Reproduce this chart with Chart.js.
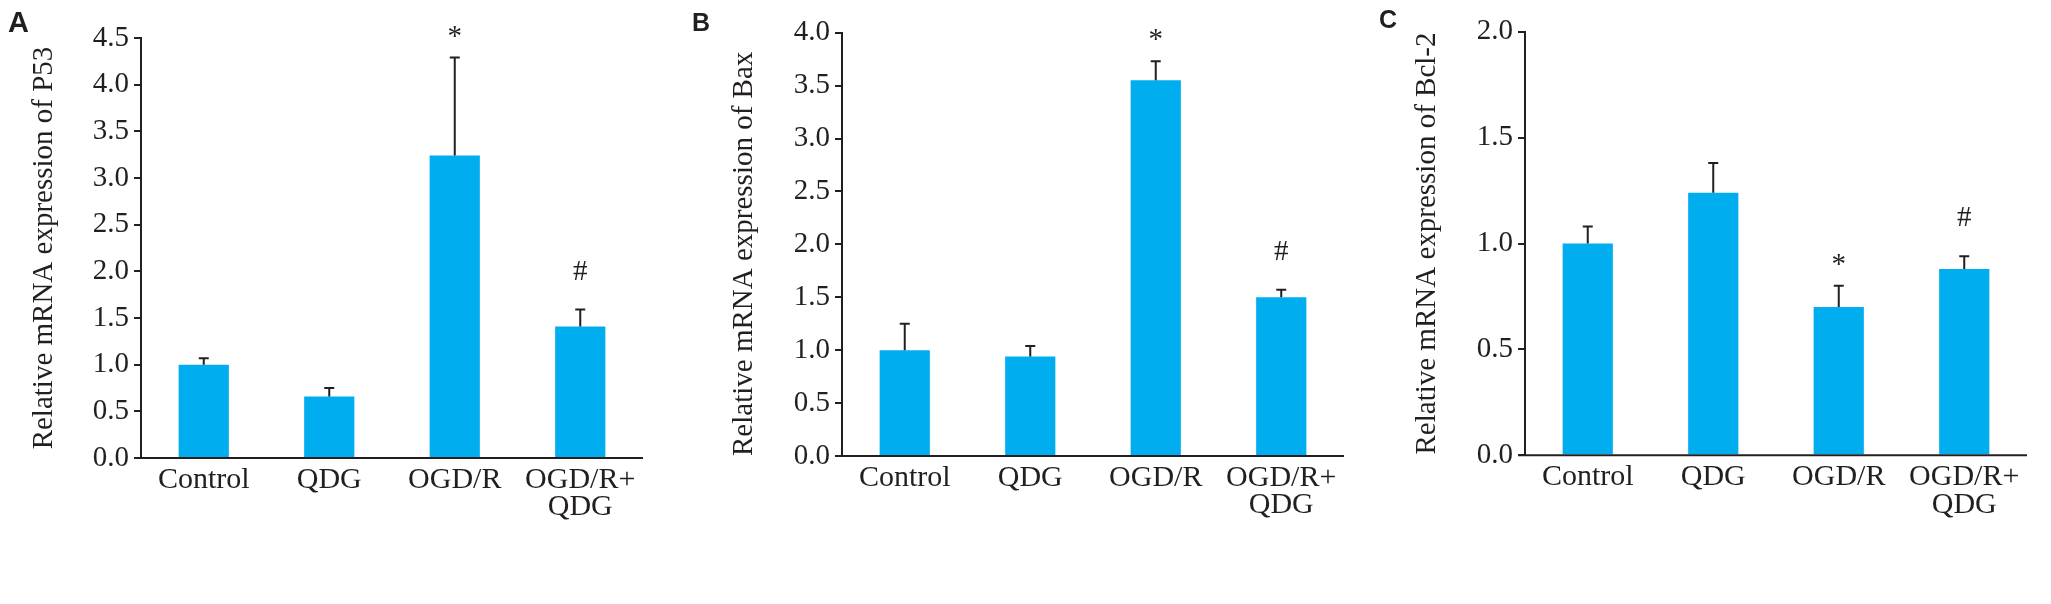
<!DOCTYPE html>
<html><head><meta charset="utf-8">
<script src="https://cdn.jsdelivr.net/npm/chart.js@4.4.1/dist/chart.umd.min.js"></script>
<style>
html,body{margin:0;padding:0;background:#fff;width:2051px;height:604px;overflow:hidden;}
canvas{position:absolute;top:0;}
.letter{position:absolute;font-family:"Liberation Sans",Arial,sans-serif;font-weight:bold;color:#231f20;line-height:1;}
</style></head><body>
<canvas id="cA" width="683" height="604" style="left:0px"></canvas>
<canvas id="cB" width="684" height="604" style="left:683px"></canvas>
<canvas id="cC" width="684" height="604" style="left:1367px"></canvas>
<div class="letter" style="left:8px;top:8px;font-size:29px">A</div>
<div class="letter" style="left:692px;top:10px;font-size:25px">B</div>
<div class="letter" style="left:1379px;top:7px;font-size:25px">C</div>
<script>
// ---- data ----
const categories = ['Control', 'QDG', 'OGD/R', ['OGD/R+', 'QDG']];
const p53Mean = [1.00, 0.66, 3.24, 1.41];
const p53SD   = [0.07, 0.09, 1.05, 0.18];
const baxMean = [1.00, 0.94, 3.55, 1.50];
const baxSD   = [0.25, 0.10, 0.18, 0.07];
const bcl2Mean = [1.00, 1.24, 0.70, 0.88];
const bcl2SD   = [0.08, 0.14, 0.10, 0.06];
const marks = ['', '', '*', '#'];
const p53Max = 4.5, baxMax = 4.0, bcl2Max = 2.0;
const tickStep = 0.5;
const titles = ['Relative mRNA expression of P53', 'Relative mRNA expression of Bax', 'Relative mRNA expression of Bcl-2'];

const TXT = '#231f20';
const SERIF = '"Liberation Serif","Times New Roman",serif';

const errPlugin = {
  id: 'errbars',
  afterDatasetsDraw(chart) {
    const {ctx, chartArea, scales: {y}} = chart;
    const ds = chart.data.datasets[0];
    const meta = chart.getDatasetMeta(0);
    ctx.save();
    ctx.strokeStyle = TXT; ctx.fillStyle = TXT; ctx.lineWidth = 2;
    meta.data.forEach((bar, i) => {
      const top = y.getPixelForValue(ds.data[i] + ds.sd[i]);
      ctx.beginPath();
      ctx.moveTo(bar.x, bar.y); ctx.lineTo(bar.x, top);
      ctx.moveTo(bar.x - 5, top); ctx.lineTo(bar.x + 5, top);
      ctx.stroke();
      const m = ds.marks[i];
      if (m) {
        ctx.font = '29px ' + SERIF;
        ctx.textAlign = 'center'; ctx.textBaseline = 'alphabetic';
        ctx.fillText(m, bar.x, top - (m === '*' ? 13 : 30));
      }
    });
    ctx.beginPath();
    ctx.moveTo(chartArea.left - 7, chartArea.bottom);
    ctx.lineTo(chartArea.right, chartArea.bottom);
    ctx.stroke();
    ctx.restore();
  }
};

function makePanel(id, mean, sd, yMax, title, L) {
  new Chart(document.getElementById(id), {
    type: 'bar',
    data: {
      labels: categories,
      datasets: [{
        data: mean, sd: sd, marks: marks,
        backgroundColor: '#00AEEF', borderWidth: 0,
        barPercentage: 0.8, categoryPercentage: 0.5
      }]
    },
    options: {
      responsive: false, animation: false,
      layout: {padding: {left: 0, right: L.right, top: L.top, bottom: 0}},
      plugins: {legend: {display: false}, tooltip: {enabled: false}},
      scales: {
        x: {
          grid: {display: false, drawTicks: false},
          border: {display: false},
          ticks: {color: TXT, font: {family: SERIF, size: 30, lineHeight: 0.92}, padding: 8, maxRotation: 0, autoSkip: false},
          afterFit: s => { s.height = L.xh; }
        },
        y: {
          min: 0, max: yMax,
          grid: {drawOnChartArea: false, drawTicks: true, tickLength: 7, lineWidth: 2, color: TXT},
          border: {display: true, color: TXT, width: 2},
          ticks: {stepSize: tickStep, color: TXT, font: {family: SERIF, size: 29}, padding: 5,
                  callback: v => Number(v).toFixed(1)},
          title: {display: true, text: title, color: TXT, align: L.align,
                  font: {family: SERIF, size: 29}, padding: {top: L.tpad, bottom: 0}},
          afterFit: s => { s.width = L.yw; }
        }
      }
    },
    plugins: [errPlugin]
  });
}

makePanel('cA', p53Mean, p53SD, p53Max, titles[0], {right: 40, top: 38, xh: 146, yw: 141, tpad: 27, align: 'center'});
makePanel('cB', baxMean, baxSD, baxMax, titles[1], {right: 23, top: 32.7, xh: 148, yw: 159, tpad: 43.6, align: 'start'});
makePanel('cC', bcl2Mean, bcl2SD, bcl2Max, titles[2], {right: 24, top: 31.7, xh: 148.7, yw: 158, tpad: 42.6, align: 'center'});
</script>
</body></html>
